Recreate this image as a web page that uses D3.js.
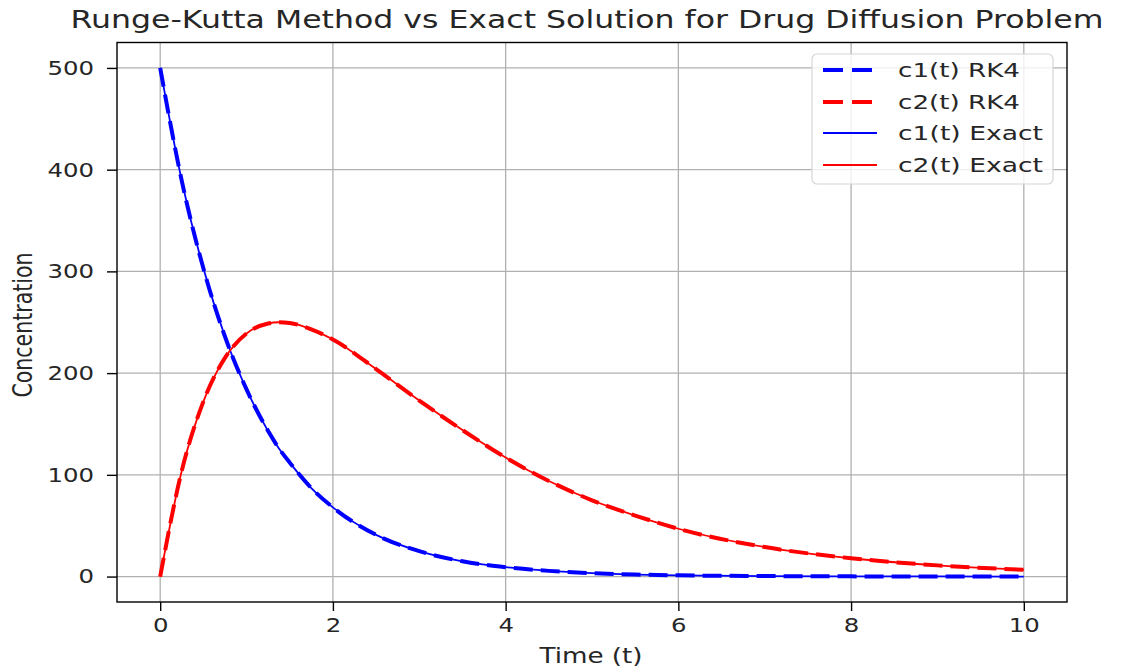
<!DOCTYPE html>
<html>
<head>
<meta charset="utf-8">
<script src="https://cdn.jsdelivr.net/npm/d3@7"></script>
<style>
  body { margin: 0; background: #fff; }
  text { font-family: 'DejaVu Sans', sans-serif; fill: #262626; }
</style>
</head>
<body>
<div id="chart"></div>
<script>
// values
const tValues = [0, 0.25, 0.5, 0.75, 1, 1.25, 1.375, 1.5, 1.75, 2, 2.5, 3, 3.5, 4, 4.5, 5, 5.5, 6, 7, 8, 9, 10];
const c1Rk4 = [500, 389, 303, 236, 184, 143, 126, 112, 87, 68, 41, 25, 15, 9.2, 5.6, 3.4, 2.0, 1.2, 0.5, 0.2, 0.1, 0.0];
const c2Rk4 = [0, 104, 172, 215, 239, 248.8, 250, 249.3, 243, 233, 204, 173, 144, 117, 94, 75, 60, 47, 29, 18, 11, 6.7];
const c1Exact = [500, 389, 303, 236, 184, 143, 126, 112, 87, 68, 41, 25, 15, 9.2, 5.6, 3.4, 2.0, 1.2, 0.5, 0.2, 0.1, 0.0];
const c2Exact = [0, 104, 172, 215, 239, 248.8, 250, 249.3, 243, 233, 204, 173, 144, 117, 94, 75, 60, 47, 29, 18, 11, 6.7];
const xTicks = [0, 2, 4, 6, 8, 10];
const yTicks = [0, 100, 200, 300, 400, 500];
const legendLabels = ['c1(t) RK4', 'c2(t) RK4', 'c1(t) Exact', 'c2(t) Exact'];

const width = 1121,
  height = 672,
  margin = { left: 117, right: 54, top: 42.5, bottom: 70 },
  stretch = 1.22; // picture is wider than it is tall, text looks stretched

const svg = d3.select('div#chart').append('svg')
  .attr('width', width)
  .attr('height', height);

const x = d3.scaleLinear()
  .domain([-0.5, 10.5])
  .range([margin.left, width - margin.right]);

const y = d3.scaleLinear()
  .domain([-25, 525])
  .range([height - margin.bottom, margin.top]);

// grid
const grid = svg.append('g')
  .attr('stroke', '#b0b0b0')
  .attr('stroke-width', 1.3);
grid.selectAll('line.gx').data(xTicks).join('line')
  .attr('class', 'gx')
  .attr('x1', d => x(d)).attr('x2', d => x(d))
  .attr('y1', y.range()[0]).attr('y2', y.range()[1]);
grid.selectAll('line.gy').data(yTicks).join('line')
  .attr('class', 'gy')
  .attr('y1', d => y(d)).attr('y2', d => y(d))
  .attr('x1', x.range()[0]).attr('x2', x.range()[1]);

// axes
const xAxis = svg.append('g')
  .attr('transform', 'translate(0,' + y.range()[0] + ')')
  .call(d3.axisBottom(x).tickValues(xTicks).tickSize(9).tickPadding(7));
const yAxis = svg.append('g')
  .attr('transform', 'translate(' + x.range()[0] + ',0)')
  .call(d3.axisLeft(y).tickValues(yTicks).tickSize(10).tickPadding(13));

[xAxis, yAxis].forEach(ax => {
  ax.select('.domain').remove();
  ax.selectAll('.tick line').attr('stroke', '#000').attr('stroke-width', 1.4);
  ax.selectAll('.tick text')
    .attr('font-family', 'DejaVu Sans')
    .attr('font-size', 20)
    .attr('fill', '#1a1a1a');
});
xAxis.selectAll('.tick text')
  .attr('transform', 'scale(' + stretch + ',1)');
yAxis.selectAll('.tick text').each(function () {
  const t = d3.select(this);
  const tx = +t.attr('x');
  t.attr('x', 0).attr('transform', 'translate(' + tx + ',0) scale(' + stretch + ',1)');
});

// series
const line = d3.line()
  .x((d, i) => x(tValues[i]))
  .y(d => y(d))
  .curve(d3.curveMonotoneX);

const series = [
  { values: c1Rk4, color: 'blue', width: 4, dash: '19,8' },
  { values: c2Rk4, color: 'red', width: 4, dash: '19,8' },
  { values: c1Exact, color: 'blue', width: 1.8, dash: null },
  { values: c2Exact, color: 'red', width: 1.8, dash: null }
];

svg.append('g').selectAll('path').data(series).join('path')
  .attr('d', d => line(d.values))
  .attr('fill', 'none')
  .attr('stroke', d => d.color)
  .attr('stroke-width', d => d.width)
  .attr('stroke-dasharray', d => d.dash);

// frame
svg.append('rect')
  .attr('x', x.range()[0])
  .attr('y', y.range()[1])
  .attr('width', x.range()[1] - x.range()[0])
  .attr('height', y.range()[0] - y.range()[1])
  .attr('fill', 'none')
  .attr('stroke', '#000')
  .attr('stroke-width', 1.4);

// legend
const legend = svg.append('g');
legend.append('rect')
  .attr('x', 812).attr('y', 54)
  .attr('width', 241).attr('height', 130)
  .attr('rx', 5)
  .attr('fill', 'rgba(255,255,255,0.8)')
  .attr('stroke', '#d6d6d6')
  .attr('stroke-width', 1.2);

const rowY = [70, 102, 133, 165];
legend.selectAll('line').data(series).join('line')
  .attr('x1', 823)
  .attr('x2', d => d.dash ? 872 : 877)
  .attr('y1', (d, i) => rowY[i])
  .attr('y2', (d, i) => rowY[i])
  .attr('stroke', d => d.color)
  .attr('stroke-width', d => d.width)
  .attr('stroke-dasharray', d => d.dash ? '20,9' : null);

legend.selectAll('text').data(legendLabels).join('text')
  .attr('x', 898)
  .attr('y', (d, i) => rowY[i] + 7)
  .attr('font-size', 19)
  .attr('textLength', d => d.indexOf('Exact') >= 0 ? 145 : 122)
  .attr('lengthAdjust', 'spacingAndGlyphs')
  .text(d => d);

// title and axis labels
svg.append('text')
  .attr('x', 587)
  .attr('y', 28)
  .attr('text-anchor', 'middle')
  .attr('font-size', 24.5)
  .attr('textLength', 1033)
  .attr('lengthAdjust', 'spacingAndGlyphs')
  .text('Runge-Kutta Method vs Exact Solution for Drug Diffusion Problem');

svg.append('text')
  .attr('x', 591)
  .attr('y', 663)
  .attr('text-anchor', 'middle')
  .attr('font-size', 20.5)
  .attr('textLength', 103)
  .attr('lengthAdjust', 'spacingAndGlyphs')
  .text('Time (t)');

svg.append('text')
  .attr('transform', 'translate(32,325) rotate(-90) scale(1,1.3)')
  .attr('text-anchor', 'middle')
  .attr('font-size', 20)
  .attr('textLength', 145)
  .attr('lengthAdjust', 'spacingAndGlyphs')
  .text('Concentration');
</script>
</body>
</html>
